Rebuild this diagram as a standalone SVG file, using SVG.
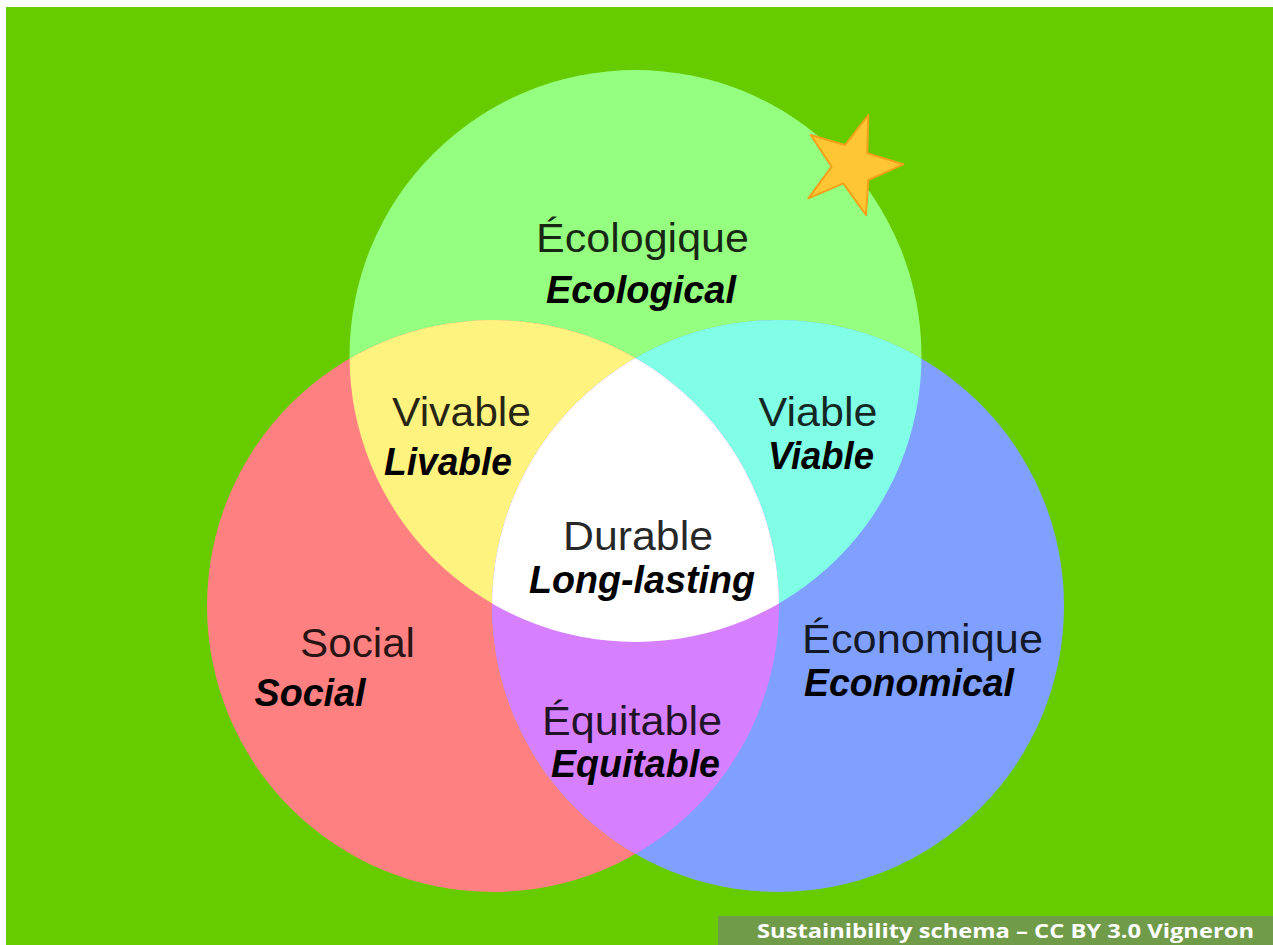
<svg xmlns="http://www.w3.org/2000/svg" width="1273" height="945" viewBox="0 0 1273 945">
  <style>
    .fr { font-family: "Liberation Sans", Arial, sans-serif; font-size: 40px; fill: #000; fill-opacity: 0.85; text-anchor: middle; }
    .en { font-family: "Liberation Sans", Arial, sans-serif; font-size: 39px; font-weight: bold; font-style: italic; fill: #000; text-anchor: middle; }
    .cap { font-family: "Open Sans", "Liberation Sans", sans-serif; font-size: 20px; font-weight: bold; fill: #fff; }
  </style>
  <defs>
    <clipPath id="clipTop"><circle cx="635.5" cy="356" r="286"/></clipPath>
    <clipPath id="clipLeft"><circle cx="493" cy="606" r="286"/></clipPath>
    <clipPath id="clipRight"><circle cx="778" cy="606" r="286"/></clipPath>
  </defs>
  <rect x="0" y="0" width="1273" height="945" fill="#ffffff"/>
  <rect x="6" y="7" width="1267" height="938" fill="#66cc00"/>

  <g id="ecologique">
    <circle cx="635.5" cy="356" r="286" fill="#95ff80"/>
    <text class="fr" x="642.5" y="252" textLength="213" lengthAdjust="spacingAndGlyphs">Écologique</text>
    <text class="en" x="641" y="303" textLength="190" lengthAdjust="spacingAndGlyphs">Ecological</text>
  </g>
  <g id="social">
    <circle cx="493" cy="606" r="286" fill="#ff8080"/>
    <text class="fr" x="357.5" y="657" textLength="115" lengthAdjust="spacingAndGlyphs">Social</text>
    <text class="en" x="310" y="706" textLength="111" lengthAdjust="spacingAndGlyphs">Social</text>
  </g>
  <g id="economique">
    <circle cx="778" cy="606" r="286" fill="#80a0ff"/>
    <text class="fr" x="922.5" y="653" textLength="241" lengthAdjust="spacingAndGlyphs">Économique</text>
    <text class="en" x="909" y="696" textLength="210" lengthAdjust="spacingAndGlyphs">Economical</text>
  </g>
  <g id="vivable">
    <circle cx="635.5" cy="356" r="286" fill="#fff380" clip-path="url(#clipLeft)"/>
    <text class="fr" x="461.5" y="426" textLength="139" lengthAdjust="spacingAndGlyphs">Vivable</text>
    <text class="en" x="448" y="475" textLength="128" lengthAdjust="spacingAndGlyphs">Livable</text>
  </g>
  <g id="viable">
    <circle cx="635.5" cy="356" r="286" fill="#80ffe6" clip-path="url(#clipRight)"/>
    <text class="fr" x="818" y="426" textLength="119" lengthAdjust="spacingAndGlyphs">Viable</text>
    <text class="en" x="821" y="469" textLength="106" lengthAdjust="spacingAndGlyphs">Viable</text>
  </g>
  <g id="equitable">
    <circle cx="493" cy="606" r="286" fill="#d680ff" clip-path="url(#clipRight)"/>
    <text class="fr" x="632" y="735" textLength="180" lengthAdjust="spacingAndGlyphs">Équitable</text>
    <text class="en" x="635.5" y="777" textLength="169" lengthAdjust="spacingAndGlyphs">Equitable</text>
  </g>
  <g id="durable">
    <g clip-path="url(#clipRight)">
      <circle cx="635.5" cy="356" r="286" fill="#ffffff" clip-path="url(#clipLeft)"/>
    </g>
    <text class="fr" x="638" y="550" textLength="150" lengthAdjust="spacingAndGlyphs">Durable</text>
    <text class="en" x="642" y="593" textLength="226" lengthAdjust="spacingAndGlyphs">Long-lasting</text>
  </g>
  <g id="star">
    <polygon points="868.3,115 867.3,153.3 903.3,164.3 868.3,180 866,215 843.3,183.3 808.3,198.3 831.7,166.7 810.7,135 845,145" fill="#fdc632" stroke="#f5a01a" stroke-width="2" stroke-linejoin="round"/>
  </g>
  <g id="caption">
    <rect x="718" y="916" width="555" height="29" fill="#709c4a"/>
    <text class="cap" x="757" y="938" textLength="497" lengthAdjust="spacingAndGlyphs">Sustainibility schema – CC BY 3.0 Vigneron</text>
  </g>
  <g id="connectors"/>
</svg>
